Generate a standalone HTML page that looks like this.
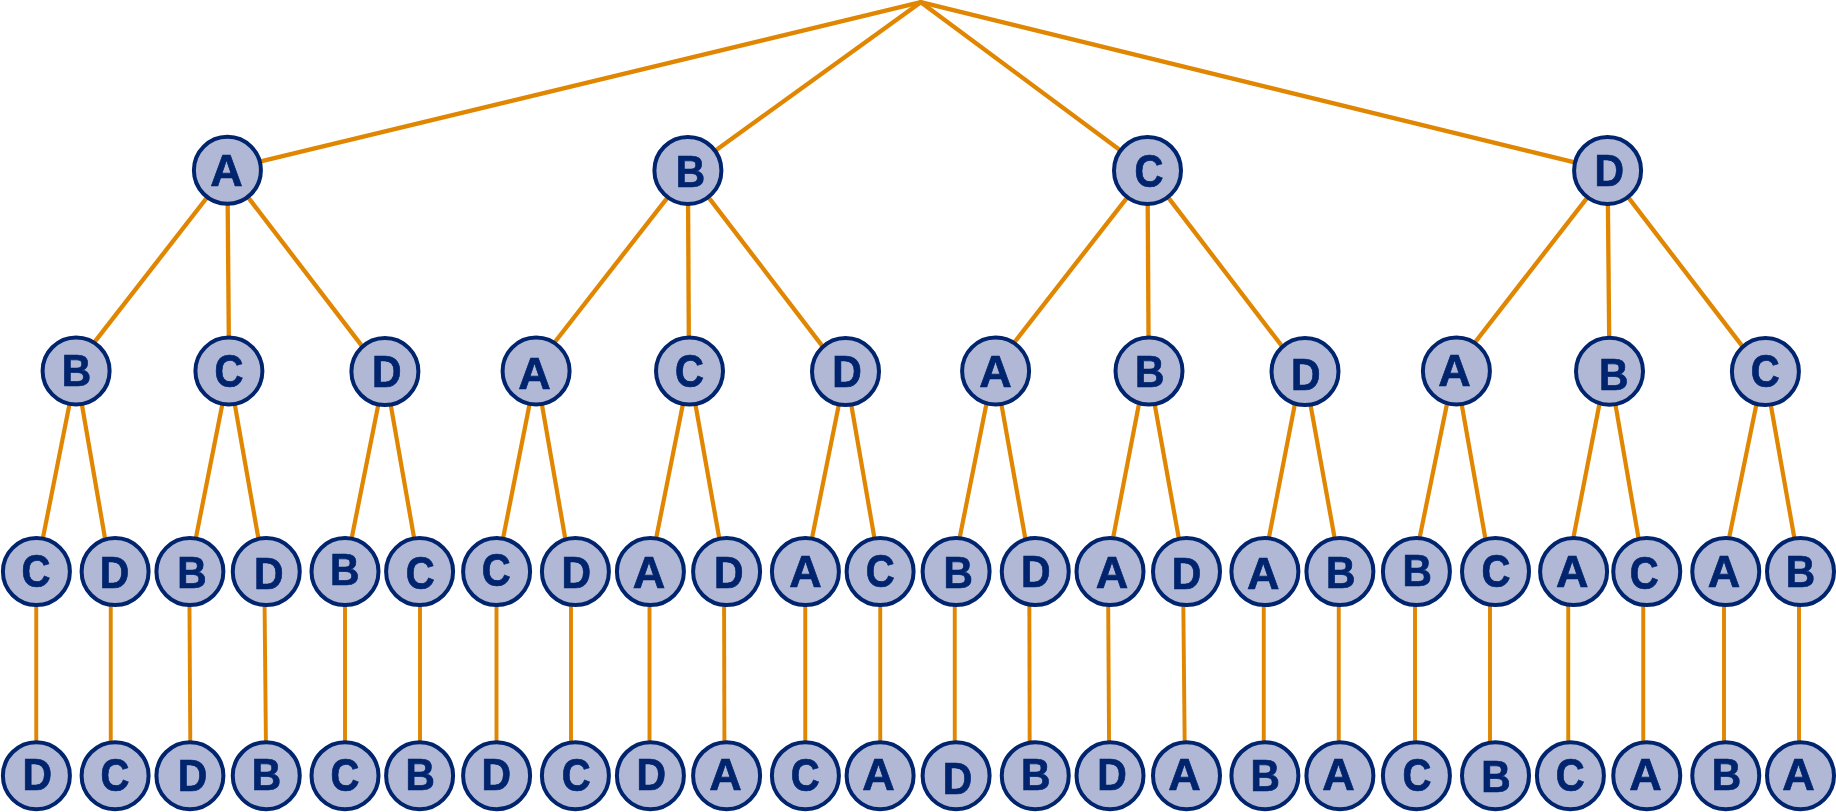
<!DOCTYPE html>
<html lang="en">
<head>
<meta charset="utf-8">
<title>Permutation tree of A, B, C, D</title>
<style>
html,body{margin:0;padding:0;background:#fff;}
body{width:1836px;height:812px;overflow:hidden;}
svg{display:block;will-change:transform;}
.edges line{stroke:#e08600;stroke-width:3.7;stroke-linecap:butt;}
.edges .l0{stroke-width:4.3;}.edges .l1{stroke-width:4.3;}.edges .l2{stroke-width:4.2;}.edges .l3{stroke-width:3.9;}
.nodes circle{fill:#b1b8d6;stroke:#00246e;stroke-width:4;}
.labels text{font-family:"Liberation Sans",Arial,Helvetica,sans-serif;font-weight:bold;font-size:43.5px;fill:#00246e;text-anchor:middle;stroke:#00246e;stroke-width:0.7px;stroke-linejoin:miter;}
</style>
</head>
<body>
<svg width="1836" height="812" viewBox="0 0 1836 812">
<rect width="1836" height="812" fill="#ffffff"/>
<g class="edges" transform="scale(1,1.0)">
<line class="l0" x1="920.8" y1="2.2" x2="227.4" y2="169.5"/>
<line class="l0" x1="920.8" y1="2.2" x2="687.9" y2="170.4"/>
<line class="l0" x1="920.8" y1="2.2" x2="1147.5" y2="170.4"/>
<line class="l0" x1="920.8" y1="2.2" x2="1607.6" y2="170.4"/>
<line class="l1" x1="228.2" y1="170.3" x2="72.1" y2="370.9"/>
<line class="l1" x1="227.4" y1="170.3" x2="229.1" y2="371"/>
<line class="l1" x1="227.4" y1="170.3" x2="381.6" y2="371.6"/>
<line class="l1" x1="688.7" y1="170.4" x2="532.3" y2="371"/>
<line class="l1" x1="687.9" y1="170.4" x2="689" y2="371.1"/>
<line class="l1" x1="687.9" y1="170.4" x2="841.9" y2="371.6"/>
<line class="l1" x1="1148.3" y1="170.4" x2="992.1" y2="371"/>
<line class="l1" x1="1147.5" y1="170.4" x2="1148.75" y2="371.1"/>
<line class="l1" x1="1147.5" y1="170.4" x2="1301.4" y2="371.6"/>
<line class="l1" x1="1608.4" y1="170.4" x2="1452.8" y2="371"/>
<line class="l1" x1="1607.6" y1="170.4" x2="1609.5" y2="371.25"/>
<line class="l1" x1="1607.6" y1="170.4" x2="1761.8" y2="371.6"/>
<line class="l2" x1="76.1" y1="370.9" x2="36.25" y2="571.6"/>
<line class="l2" x1="76.1" y1="370.9" x2="110.75" y2="571.6"/>
<line class="l2" x1="228.9" y1="371" x2="189.25" y2="571.6"/>
<line class="l2" x1="228.9" y1="371" x2="264.25" y2="571.6"/>
<line class="l2" x1="384.9" y1="371.6" x2="345" y2="571.6"/>
<line class="l2" x1="384.9" y1="371.6" x2="420" y2="571.6"/>
<line class="l2" x1="536.1" y1="371" x2="496.5" y2="571.6"/>
<line class="l2" x1="536.1" y1="371" x2="571" y2="571.6"/>
<line class="l2" x1="689.5" y1="371.1" x2="649.5" y2="571.6"/>
<line class="l2" x1="689.5" y1="371.1" x2="725.2" y2="571.6"/>
<line class="l2" x1="845.5" y1="371.6" x2="805.25" y2="571.6"/>
<line class="l2" x1="845.5" y1="371.6" x2="880.25" y2="571.6"/>
<line class="l2" x1="993" y1="371" x2="952.9" y2="571.6"/>
<line class="l2" x1="995.5" y1="371" x2="1031.2" y2="571.6"/>
<line class="l2" x1="1145.3" y1="371.1" x2="1106.6" y2="571.6"/>
<line class="l2" x1="1148.7" y1="371.1" x2="1184.8" y2="571.6"/>
<line class="l2" x1="1301.2" y1="371.6" x2="1262.3" y2="571.6"/>
<line class="l2" x1="1304.5" y1="371.6" x2="1340.7" y2="571.6"/>
<line class="l2" x1="1453.7" y1="371" x2="1412.7" y2="571.6"/>
<line class="l2" x1="1455.8" y1="371" x2="1491.2" y2="571.6"/>
<line class="l2" x1="1605.8" y1="371.25" x2="1566.8" y2="571.6"/>
<line class="l2" x1="1609.7" y1="371.25" x2="1644.3" y2="571.6"/>
<line class="l2" x1="1763.1" y1="371.6" x2="1722.2" y2="571.6"/>
<line class="l2" x1="1764.9" y1="371.6" x2="1800.3" y2="571.6"/>
<line class="l3" x1="36.25" y1="571.6" x2="36.25" y2="775.7"/>
<line class="l3" x1="110.75" y1="571.6" x2="110.75" y2="775.7"/>
<line class="l3" x1="189.25" y1="571.6" x2="190.5" y2="775.7"/>
<line class="l3" x1="264.25" y1="571.6" x2="266.25" y2="775.7"/>
<line class="l3" x1="345" y1="571.6" x2="345" y2="775.7"/>
<line class="l3" x1="420" y1="571.6" x2="420" y2="775.7"/>
<line class="l3" x1="496.5" y1="571.6" x2="496.5" y2="775.7"/>
<line class="l3" x1="571" y1="571.6" x2="571" y2="775.7"/>
<line class="l3" x1="649.5" y1="571.6" x2="649.5" y2="775.7"/>
<line class="l3" x1="724" y1="571.6" x2="724.5" y2="775.7"/>
<line class="l3" x1="805.25" y1="571.6" x2="805.25" y2="775.7"/>
<line class="l3" x1="880.25" y1="571.6" x2="880.25" y2="775.7"/>
<line class="l3" x1="954.75" y1="571.6" x2="954.75" y2="775.7"/>
<line class="l3" x1="1029.25" y1="571.6" x2="1029.75" y2="775.7"/>
<line class="l3" x1="1108" y1="571.6" x2="1109.25" y2="775.7"/>
<line class="l3" x1="1183" y1="571.6" x2="1185" y2="775.7"/>
<line class="l3" x1="1263.75" y1="571.6" x2="1263.75" y2="775.7"/>
<line class="l3" x1="1338.75" y1="571.6" x2="1338.75" y2="775.7"/>
<line class="l3" x1="1415" y1="571.6" x2="1415" y2="775.7"/>
<line class="l3" x1="1490" y1="571.6" x2="1490" y2="775.7"/>
<line class="l3" x1="1568.25" y1="571.6" x2="1568.25" y2="775.7"/>
<line class="l3" x1="1643.25" y1="571.6" x2="1643.25" y2="775.7"/>
<line class="l3" x1="1724" y1="571.6" x2="1724" y2="775.7"/>
<line class="l3" x1="1799" y1="571.6" x2="1799" y2="775.7"/>
<circle cx="920.8" cy="1.3" r="1.7" fill="#e08600"/>
</g>
<g class="nodes">
<circle cx="227.4" cy="170.3" r="33.5"/>
<circle cx="687.9" cy="170.4" r="33.5"/>
<circle cx="1147.5" cy="170.4" r="33.5"/>
<circle cx="1607.6" cy="170.4" r="33.5"/>
<circle cx="76.1" cy="370.9" r="33.5"/>
<circle cx="228.9" cy="371" r="33.5"/>
<circle cx="384.9" cy="371.6" r="33.5"/>
<circle cx="536.1" cy="371" r="33.5"/>
<circle cx="689.5" cy="371.1" r="33.5"/>
<circle cx="845.5" cy="371.6" r="33.5"/>
<circle cx="995.6" cy="371" r="33.5"/>
<circle cx="1149" cy="371.1" r="33.5"/>
<circle cx="1305" cy="371.6" r="33.5"/>
<circle cx="1456.4" cy="371" r="33.5"/>
<circle cx="1609.5" cy="371.25" r="33.5"/>
<circle cx="1765.4" cy="371.6" r="33.5"/>
<circle cx="36.4" cy="571.6" r="33.5"/>
<circle cx="115.1" cy="571.6" r="33.5"/>
<circle cx="189.9" cy="571.6" r="33.5"/>
<circle cx="266.25" cy="571.6" r="33.5"/>
<circle cx="345" cy="571.6" r="33.5"/>
<circle cx="419.6" cy="571.6" r="33.5"/>
<circle cx="496.6" cy="571.6" r="33.5"/>
<circle cx="575.4" cy="571.6" r="33.5"/>
<circle cx="650.4" cy="571.6" r="33.5"/>
<circle cx="726.6" cy="571.6" r="33.5"/>
<circle cx="805.4" cy="571.6" r="33.5"/>
<circle cx="880.1" cy="571.6" r="33.5"/>
<circle cx="956.1" cy="571.6" r="33.5"/>
<circle cx="1035.25" cy="571.6" r="33.5"/>
<circle cx="1110" cy="571.6" r="33.5"/>
<circle cx="1186.5" cy="571.6" r="33.5"/>
<circle cx="1264.9" cy="571.6" r="33.5"/>
<circle cx="1339.9" cy="571.6" r="33.5"/>
<circle cx="1416.4" cy="571.6" r="33.5"/>
<circle cx="1495.5" cy="571.6" r="33.5"/>
<circle cx="1573.6" cy="571.6" r="33.5"/>
<circle cx="1646.75" cy="571.6" r="33.5"/>
<circle cx="1725.75" cy="571.6" r="33.5"/>
<circle cx="1800.5" cy="571.6" r="33.5"/>
<circle cx="36.4" cy="775.7" r="33.5"/>
<circle cx="115.1" cy="775.7" r="33.5"/>
<circle cx="189.9" cy="775.7" r="33.5"/>
<circle cx="266.25" cy="775.7" r="33.5"/>
<circle cx="345" cy="775.7" r="33.5"/>
<circle cx="419.6" cy="775.7" r="33.5"/>
<circle cx="496.6" cy="775.7" r="33.5"/>
<circle cx="575.4" cy="775.7" r="33.5"/>
<circle cx="650.4" cy="775.7" r="33.5"/>
<circle cx="726.6" cy="775.7" r="33.5"/>
<circle cx="805.4" cy="775.7" r="33.5"/>
<circle cx="880.1" cy="775.7" r="33.5"/>
<circle cx="956.1" cy="775.7" r="33.5"/>
<circle cx="1035.25" cy="775.7" r="33.5"/>
<circle cx="1110" cy="775.7" r="33.5"/>
<circle cx="1186.5" cy="775.7" r="33.5"/>
<circle cx="1264.9" cy="775.7" r="33.5"/>
<circle cx="1339.9" cy="775.7" r="33.5"/>
<circle cx="1416.4" cy="775.7" r="33.5"/>
<circle cx="1495.5" cy="775.7" r="33.5"/>
<circle cx="1570.4" cy="775.7" r="33.5"/>
<circle cx="1646.75" cy="775.7" r="33.5"/>
<circle cx="1725.75" cy="775.7" r="33.5"/>
<circle cx="1800.5" cy="775.7" r="33.5"/>
</g>
<g class="labels">
<text transform="translate(226.63,186) scale(1.035,1)">A</text>
<text transform="translate(690.46,187) scale(0.935,1)">B</text>
<text transform="translate(1148.98,187) scale(0.921,1.07)">C</text>
<text transform="translate(1609.39,186) scale(0.941,1)">D</text>
<text transform="translate(76.46,386) scale(0.935,1)">B</text>
<text transform="translate(228.98,387) scale(0.921,1.07)">C</text>
<text transform="translate(386.74,387) scale(0.941,1)">D</text>
<text transform="translate(534.63,389) scale(1.035,1)">A</text>
<text transform="translate(689.48,387) scale(0.921,1.07)">C</text>
<text transform="translate(846.99,387) scale(0.941,1)">D</text>
<text transform="translate(995.53,387) scale(1.035,1)">A</text>
<text transform="translate(1149.56,387) scale(0.935,1)">B</text>
<text transform="translate(1305.89,390) scale(0.941,1)">D</text>
<text transform="translate(1454.53,386) scale(1.035,1)">A</text>
<text transform="translate(1613.56,390) scale(0.935,1)">B</text>
<text transform="translate(1765.23,387) scale(0.921,1.07)">C</text>
<text transform="translate(35.98,587) scale(0.921,1.07)">C</text>
<text transform="translate(114.59,588) scale(0.941,1)">D</text>
<text transform="translate(191.96,588) scale(0.935,1)">B</text>
<text transform="translate(268.74,589) scale(0.941,1)">D</text>
<text transform="translate(344.56,585) scale(0.935,1)">B</text>
<text transform="translate(420.23,589) scale(0.921,1.07)">C</text>
<text transform="translate(496.23,586) scale(0.921,1.07)">C</text>
<text transform="translate(576.39,588) scale(0.941,1)">D</text>
<text transform="translate(649.03,588) scale(1.035,1)">A</text>
<text transform="translate(728.74,588) scale(0.941,1)">D</text>
<text transform="translate(805.53,587) scale(1.035,1)">A</text>
<text transform="translate(880.23,587) scale(0.921,1.07)">C</text>
<text transform="translate(958.16,588) scale(0.935,1)">B</text>
<text transform="translate(1035.89,587) scale(0.941,1)">D</text>
<text transform="translate(1112.03,588) scale(1.035,1)">A</text>
<text transform="translate(1186.59,589) scale(0.941,1)">D</text>
<text transform="translate(1263.28,589) scale(1.035,1)">A</text>
<text transform="translate(1340.66,588) scale(0.935,1)">B</text>
<text transform="translate(1417.16,586) scale(0.935,1)">B</text>
<text transform="translate(1495.98,587) scale(0.921,1.07)">C</text>
<text transform="translate(1572.28,587) scale(1.035,1)">A</text>
<text transform="translate(1644.23,589) scale(0.921,1.07)">C</text>
<text transform="translate(1724.13,587) scale(1.035,1)">A</text>
<text transform="translate(1800.46,587) scale(0.935,1)">B</text>
<text transform="translate(37.39,790) scale(0.941,1)">D</text>
<text transform="translate(114.98,791) scale(0.921,1.07)">C</text>
<text transform="translate(192.59,791) scale(0.941,1)">D</text>
<text transform="translate(266.46,790) scale(0.935,1)">B</text>
<text transform="translate(344.98,791) scale(0.921,1.07)">C</text>
<text transform="translate(420.16,790) scale(0.935,1)">B</text>
<text transform="translate(496.39,790) scale(0.941,1)">D</text>
<text transform="translate(576.23,791) scale(0.921,1.07)">C</text>
<text transform="translate(651.39,790) scale(0.941,1)">D</text>
<text transform="translate(725.53,790) scale(1.035,1)">A</text>
<text transform="translate(805.23,791) scale(0.921,1.07)">C</text>
<text transform="translate(878.63,790) scale(1.035,1)">A</text>
<text transform="translate(957.49,794) scale(0.941,1)">D</text>
<text transform="translate(1035.66,790) scale(0.935,1)">B</text>
<text transform="translate(1112.09,790) scale(0.941,1)">D</text>
<text transform="translate(1184.53,790) scale(1.035,1)">A</text>
<text transform="translate(1265.16,791) scale(0.935,1)">B</text>
<text transform="translate(1338.43,790) scale(1.035,1)">A</text>
<text transform="translate(1416.98,791) scale(0.921,1.07)">C</text>
<text transform="translate(1495.96,792) scale(0.935,1)">B</text>
<text transform="translate(1570.23,791) scale(0.921,1.07)">C</text>
<text transform="translate(1645.43,790) scale(1.035,1)">A</text>
<text transform="translate(1726.46,790) scale(0.935,1)">B</text>
<text transform="translate(1798.63,790) scale(1.035,1)">A</text>
</g>
</svg>
</body>
</html>
